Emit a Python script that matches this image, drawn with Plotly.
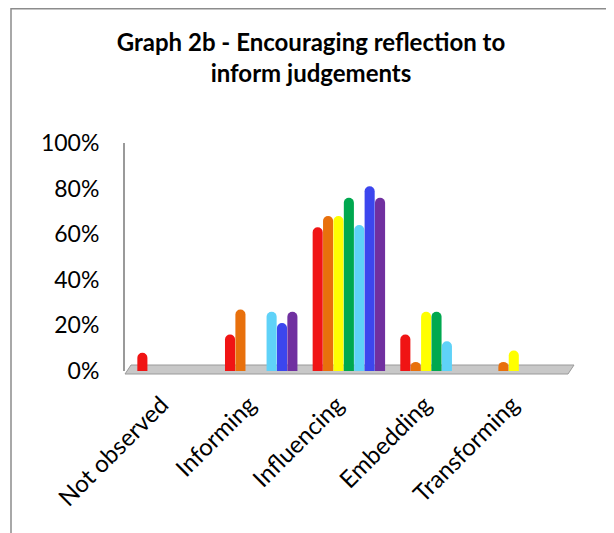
import plotly.graph_objects as go

categories = ["Not observed", "Informing", "Influencing", "Embedding", "Transforming"]
series_names = ["S1", "S2", "S3", "S4", "S5", "S6", "S7"]
s1 = [0.08, 0.16, 0.63, 0.16, 0.0]
s2 = [0.0, 0.27, 0.68, 0.04, 0.04]
s3 = [0.0, 0.0, 0.68, 0.26, 0.09]
s4 = [0.0, 0.0, 0.76, 0.26, 0.0]
s5 = [0.0, 0.26, 0.64, 0.13, 0.0]
s6 = [0.0, 0.21, 0.81, 0.0, 0.0]
s7 = [0.0, 0.26, 0.76, 0.0, 0.0]
series_values = [s1, s2, s3, s4, s5, s6, s7]
colors = ["#f01414", "#e8700c", "#ffff00", "#00a84f", "#5fd2f8", "#3c46ee", "#7030a0"]
tick_vals = [0, 0.2, 0.4, 0.6, 0.8, 1.0]
tick_text = ["0%", "20%", "40%", "60%", "80%", "100%"]

fig = go.Figure()
for name, vals, col in zip(series_names, series_values, colors):
    fig.add_trace(go.Bar(x=categories, y=vals, name=name, marker_color=col,
                         marker_line_width=0, showlegend=False))

# page offset (body margin) of 8px
OFF = 8
FW, FH = 614 - OFF, 533 - OFF
# plot area in page px: x 125..568, y 143..371
L, R, T, B = 125 - OFF, 568 - OFF, 143 - OFF, 371 - OFF
W, H = R - L, B - T
def px(x):
    return (x - OFF - L) / W
def py(y):
    return (B - (y - OFF)) / H

shapes = [
    dict(type="path", xref="paper", yref="paper",
         path=f"M {px(11)} {py(560)} L {px(11)} {py(8.8)} L {px(640)} {py(8.8)}",
         line=dict(color="#8c8c8c", width=1.5)),
    dict(type="path", xref="paper", yref="paper", layer="below",
         path=f"M {px(125)} {py(374)} L {px(568)} {py(374)} L {px(574)} {py(365)} L {px(131)} {py(365)} Z",
         fillcolor="#c8c8c8", line=dict(color="#9a9a9a", width=1)),
]

fig.update_layout(
    width=FW, height=FH,
    margin=dict(l=L, r=FW - R, t=T, b=FH - B, autoexpand=False),
    paper_bgcolor="white", plot_bgcolor="white",
    barmode="group", bargap=0.17, bargroupgap=0.03, barcornerradius=5,
    title=dict(text="<b>Graph 2b - Encouraging reflection to<br>inform judgements</b>",
               x=0.5, xanchor="center", y=0.918, yanchor="top",
               font=dict(family="Lato", size=24, color="black")),
    font=dict(family="Lato", color="black"),
    shapes=shapes,
)
fig.update_xaxes(range=[-0.554, 4.5], tickangle=-45, tickfont=dict(size=24),
                 showline=False, showgrid=False, ticks="", ticklabelshift=-12,
                 ticklabelstandoff=14, automargin=False)
fig.update_yaxes(range=[0, 1.0], tickvals=tick_vals, ticktext=tick_text,
                 tickfont=dict(size=23), showgrid=False, zeroline=False,
                 showline=True, linecolor="#9a9a9a", linewidth=2, ticks="",
                 ticklabelstandoff=19, automargin=False)
fig.write_html("out.html")
